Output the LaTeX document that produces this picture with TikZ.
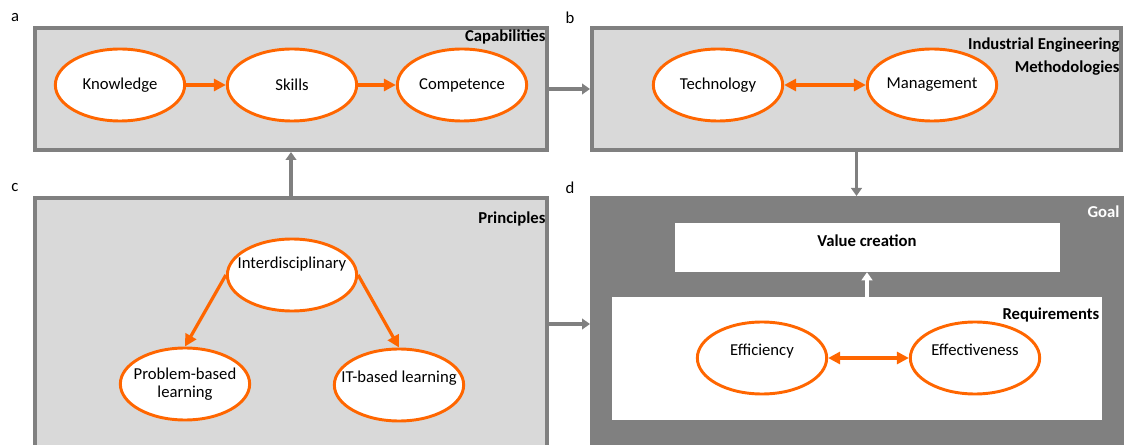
\documentclass[tikz,border=0pt]{standalone}
\usepackage{fontspec}
\setmainfont{Carlito}
\usetikzlibrary{shapes.geometric,arrows.meta,fit}
\definecolor{vorange}{RGB}{255,102,0}
\definecolor{vgray}{RGB}{128,128,128}
\definecolor{vlight}{RGB}{217,217,217}
\begin{document}
\begin{tikzpicture}[
		x=0.75pt, y=-0.75pt,
		font=\fontsize{12.5}{14}\selectfont,
		panel/.style={draw=vgray, line width=3pt, fill=vlight, inner sep=0pt},
		plain/.style={fill=white, inner sep=0pt},
		oval/.style={ellipse, draw=vorange, line width=2.2pt, fill=white,
				minimum width=97pt, minimum height=54pt, inner sep=0pt, align=center},
		lift/.style={text depth=#1},
		flow/.style={draw=vorange, line width=2.4pt, -{Triangle[length=9pt,width=9pt]}},
		twoway/.style={flow, {Triangle[length=9pt,width=9pt]}-{Triangle[length=9pt,width=9pt]}},
		link/.style={draw=vgray, line width=2.5pt, -{Triangle[length=6pt,width=8pt]}},
		title/.style={font=\fontsize{12.5}{17}\selectfont\bfseries, anchor=north east,
				align=right, inner sep=1pt}
	]
	\useasboundingbox (0,0) rectangle (1124,445);
	\clip (0,0) rectangle (1124,445);

	% panels
	\node[panel, fit={(35,28) (547,150)}] (capab) {};
	\node[panel, fit={(592,28) (1121,150)}] (method) {};
	\node[panel, fit={(35,198) (547,450)}] (princ) {};
	\node[panel, fill=vgray, fit={(592,198) (1128,450)}] (goal) {};
	\node[plain, fit={(675,223) (1060,272)}] (value) {};
	\node[plain, fit={(612,297) (1102,420)}] (req) {};

	% panel letters
	\node (la) at (15,18) {a};
	\node (lb) at (570,18) {b};
	\node (lc) at (15,188) {c};
	\node (ld) at (570,188) {d};

	% panel titles
	\node[title] (capabt) at ([xshift=-1.5pt,yshift=-1.5pt]capab.north east) {Capabilities};
	\node[title] (methodt) at ([xshift=-1.5pt,yshift=-8pt]method.north east)
		{Industrial Engineering\\Methodologies};
	\node[title] (princt) at ([xshift=-1.5pt,yshift=-11pt]princ.north east) {Principles};
	\node[title, text=white] (goalt) at (1121,204) {Goal};
	\node[font=\fontsize{12.5}{14}\selectfont\bfseries] (valuet) at (867,241) {Value creation};
	\node[title] (reqt) at ([xshift=-1pt,yshift=-7pt]req.north east) {Requirements};

	% capabilities
	\node[oval] (know) at (120,85) {Knowledge};
	\node[oval] (skill) at (292,85) {Skills};
	\node[oval] (comp) at (462,85) {Competence};
	\draw[flow] (know) -- (skill);
	\draw[flow] (skill) -- (comp);

	% methodologies
	\node[oval] (tech) at (718,85) {Technology};
	\node[oval] (manage) at (932,85) {Management};
	\draw[twoway] (tech) -- (manage);

	% principles
	\node[oval, lift=18pt] (inter) at (292,275) {\makebox[0pt]{Interdisciplinary}};
	\node[oval] (pbl) at (185,384) {\makebox[0pt]{Problem-based}\\\makebox[0pt]{learning}};
	\node[oval, lift=13pt] (itl) at (399,385) {\makebox[0pt]{IT-based learning}};
	\draw[flow] (inter.west) -- (pbl.north);
	\draw[flow] (inter.east) -- (itl.north);

	% requirements
	\node[oval, lift=12pt] (effic) at (762,358) {Efficiency};
	\node[oval, lift=12pt] (effect) at (975,358) {Effectiveness};
	\draw[twoway] (effic) -- (effect);

	% links between panels
	\draw[link] (capab.east) -- (method.west);
	\draw[link] (princ.north) -- (capab.south);
	\draw[link] (method.south) -- (method.south |- goal.north);
	\draw[link] (princ.east) -- (princ.east -| goal.west);
	\draw[link, draw=white] (req.north -| valuet) -- (value.south -| valuet);
\end{tikzpicture}
\end{document}
